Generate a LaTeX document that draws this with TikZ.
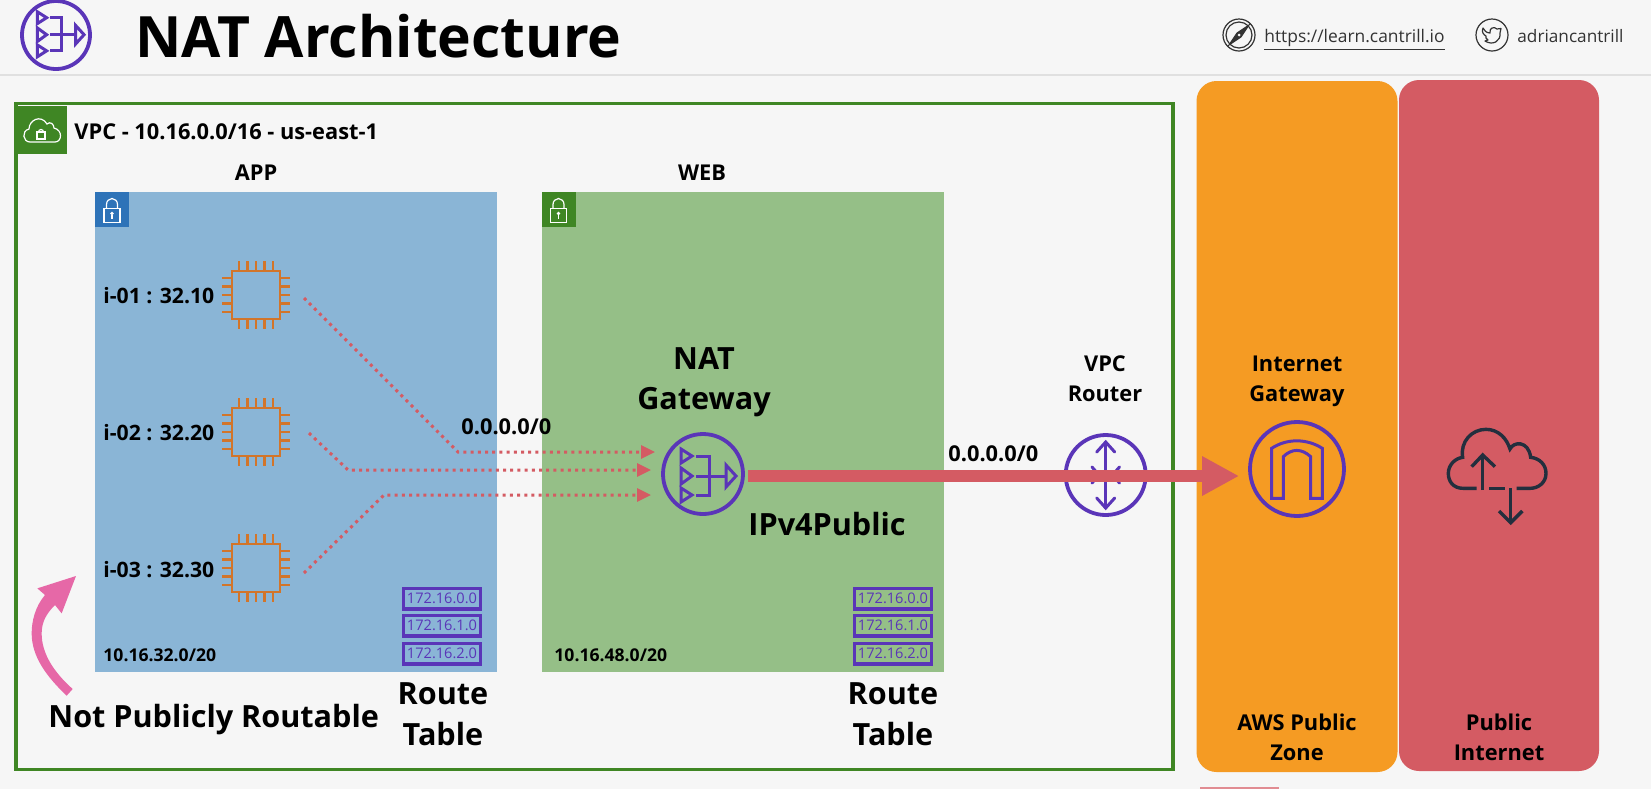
\documentclass[tikz,border=0pt]{standalone}
\usepackage{fontspec}
\setmainfont{Open Sans}
\usetikzlibrary{arrows.meta,calc}
\definecolor{bgc}{HTML}{F6F6F6}
\definecolor{vpcg}{HTML}{3F8624}
\definecolor{bluearea}{HTML}{8AB5D6}
\definecolor{greenarea}{HTML}{95BF87}
\definecolor{bluebadge}{HTML}{2E73B8}
\definecolor{orangez}{HTML}{F59B23}
\definecolor{redz}{HTML}{D45B63}
\definecolor{pinkarrow}{HTML}{E668A7}
\definecolor{purp}{HTML}{5A35B8}
\definecolor{chipc}{HTML}{D2752A}
\definecolor{darkc}{HTML}{232F3E}
\definecolor{linec}{HTML}{333333}
\newcommand\tsize[1]{\fontsize{#1}{#1}\selectfont}
\tikzset{
  lbl/.style={inner sep=0pt,anchor=base,text=black},
  lblw/.style={inner sep=0pt,anchor=base west,text=black},
  hb/.style={font=\bfseries\tsize{15.3}},
  mb/.style={font=\bfseries\tsize{10.9}},
  ib/.style={font=\bfseries\tsize{10.6}},
  sb/.style={font=\bfseries\tsize{8.8}},
  chipbody/.style={draw=chipc,line width=1.4pt,minimum size=24pt,inner sep=0pt},
  pin/.style={draw=chipc,line width=1.2pt},
  rtable/.style={draw=purp,line width=1.6pt,text=purp,minimum width=38.5pt,minimum height=10.4pt,inner sep=0pt,font=\tsize{7.3}},
  ring/.style={draw=purp,circle,line width=1.9pt,inner sep=0pt},
  glyph/.style={draw=purp,line width=1.5pt,line join=miter},
  dotline/.style={draw=redz,line width=1.5pt,dash pattern=on 1.5pt off 2.1pt,-{Triangle[length=7pt,width=6.5pt]}},
  bigline/.style={draw=redz,line width=5.6pt,-{Triangle[length=18.5pt,width=18.5pt]}},
  badge/.style={inner sep=0pt,draw=none},
  lockd/.style={draw=white,line width=.6pt},
}
\newcommand\chipat[2]{%
  \node[chipbody] (#1) at (#2) {};
  \foreach \d in {-17,-8.5,0,8.5,17}{
    \draw[pin] ($(#1.north)+(\d,0)$) -- +(0,-9);
    \draw[pin] ($(#1.south)+(\d,0)$) -- +(0,9);
    \draw[pin] ($(#1.west)+(0,\d)$) -- +(-9,0);
    \draw[pin] ($(#1.east)+(0,\d)$) -- +(9,0);
  }}
\newcommand\natglyph[3]{%
  \begin{scope}[shift={(#1,#2)},scale=#3]
    \draw[glyph] (-22,-25) -- (-11,-18) -- (-22,-11) -- cycle;
    \draw[glyph] (-22,-6) -- (-11,2) -- (-22,10) -- cycle;
    \draw[glyph] (-22,14) -- (-11,21) -- (-22,28) -- cycle;
    \draw[glyph] (-7,-18) -- (6,-18) -- (6,21) -- (-7,21);
    \draw[glyph] (-7,2) -- (23,2);
    \draw[glyph] (23,-9) -- (33,2) -- (23,13) -- cycle;
  \end{scope}}
\newcommand\lockat[2]{%
  \begin{scope}[shift={(#1,#2)}]
    \draw[lockd] (-8,-1) rectangle (8,13);
    \draw[lockd] (-5.5,-1) -- (-5.5,-5) arc (180:360:5.5 and 6) -- (5.5,-1);
    \fill[white] (0,4) circle (1.8);
    \draw[lockd] (0,5) -- (0,9);
  \end{scope}}
\begin{document}
\begin{tikzpicture}[x=0.5pt,y=-0.5pt]
\useasboundingbox (0,0) rectangle (1651,789);
\fill[bgc] (0,0) rectangle (1651,789);
\draw[black!12,line width=.6pt] (0,75) -- (1651,75);

% header
\node[ring,minimum size=34pt] (natlogo) at (56,35) {};
\natglyph{56}{33}{0.85}
\node[lblw,font=\bfseries\tsize{28.5}] (title) at (135,57) {NAT Architecture};
\node[draw=linec,circle,line width=.6pt,minimum size=16pt,inner sep=0pt] (web) at (1239,35) {};
\node[draw=linec,circle,line width=.6pt,minimum size=13pt,inner sep=0pt] (webin) at (1239,35) {};
\draw[linec,line width=.5pt,fill=linec] (1249,25) -- (1241,37) -- (1229,45) -- (1237,33) -- cycle;
\fill[bgc] (1239,35) circle (1.5);
\node[lblw,font=\tsize{8.7},text=linec] (site) at (1264,42) {\underline{https://learn.cantrill.io}};
\node[draw=linec,circle,line width=.6pt,minimum size=16pt,inner sep=0pt] (tw) at (1492,35) {};
\draw[linec,line width=.6pt,line join=round] (1501,28.5) -- (1497,29) .. controls (1494,26) and (1489,28) .. (1490,33) .. controls (1486,33) and (1484,30) .. (1483,28) .. controls (1481,32) and (1484,35) .. (1486,36) .. controls (1485,37) and (1486,39) .. (1488,40) -- (1485,41) .. controls (1493,46) and (1501,41) .. (1500,33) -- cycle;
\node[lblw,font=\tsize{8.6},text=linec] (handle) at (1517,42) {adriancantrill};

% zones
\node[fill=orangez,rounded corners=10pt,minimum width=100.5pt,minimum height=345.5pt,inner sep=0pt] (awsz) at (1297,426.5) {};
\node[fill=redz,rounded corners=10pt,minimum width=100pt,minimum height=345.5pt,inner sep=0pt] (inet) at (1499,425.5) {};
\fill[redz!70!white] (1200,786.5) rectangle (1279,789);

% VPC
\node[draw=vpcg,line width=1.6pt,minimum width=578.5pt,minimum height=333pt,inner sep=0pt] (vpc) at (594.5,436.5) {};
\node[badge,fill=vpcg,minimum width=25pt,minimum height=24pt] (vpcbadge) at (41.5,130) {};
\draw[white,line width=.6pt] (30,142) .. controls (23,142) and (21,131) .. (29,129) .. controls (29,120) and (41,114) .. (47,124) .. controls (50,121) and (54,124) .. (54,128) .. controls (63,130) and (62,142) .. (55,142) -- cycle;
\draw[white,line width=.6pt] (37,132) rectangle (45,139);
\draw[white,line width=.6pt] (38.5,132) arc (180:360:2.5);
\node[lblw,mb] (vpclabel) at (74,139) {VPC - 10.16.0.0/16 - us-east-1};

% subnets
\node[fill=bluearea,minimum width=201pt,minimum height=240pt,inner sep=0pt] (app) at (296,432) {};
\node[fill=greenarea,minimum width=201pt,minimum height=240pt,inner sep=0pt] (webz) at (742.5,432) {};
\node[badge,fill=bluebadge,minimum width=17pt,minimum height=17.5pt] (appbadge) at (112,209.5) {};
\lockat{112}{209.5}
\node[badge,fill=vpcg,minimum width=17pt,minimum height=17.5pt] (webbadge) at (558.5,209.5) {};
\lockat{558.5}{209.5}
\node[lbl,mb] (applabel) at (256,180) {APP};
\node[lbl,mb] (weblabel) at (702,180) {WEB};

% chips
\chipat{chipa}{256,295}
\chipat{chipb}{256,432}
\chipat{chipc}{256,568}
\node[lblw,ib] (ia) at (103,303) {i-01 : 32.10};
\node[lblw,ib] (ib) at (103,440) {i-02 : 32.20};
\node[lblw,ib] (ic) at (103,577) {i-03 : 32.30};
\node[lblw,sb] (cidra) at (103,661) {10.16.32.0/20};
\node[lblw,sb] (cidrb) at (554,661) {10.16.48.0/20};

% route tables
\foreach \n/\y/\t in {a/598.5/172.16.0.0,b/625.5/172.16.1.0,c/653.5/172.16.2.0}{
  \node[rtable] (rl\n) at (442,\y) {\t};
  \node[rtable] (rr\n) at (893,\y) {\t};
}
\node[lbl,hb] (rt1a) at (443,704) {Route};
\node[lbl,hb] (rt1b) at (443,745) {Table};
\node[lbl,hb] (rt2a) at (893,704) {Route};
\node[lbl,hb] (rt2b) at (893,745) {Table};
\node[lblw,hb] (npr) at (48,727) {Not Publicly Routable};

% pink arrow
\begin{scope}[shift={(0,540)},scale=0.33333]
\fill[pinkarrow] (200,467) -- (218,447) .. controls (160,395) and (125,340) .. (125,280) .. controls (125,245) and (140,220) .. (165,195) -- (185,220) -- (228,108) -- (112,145) -- (135,165) .. controls (105,200) and (95,245) .. (95,280) .. controls (95,350) and (140,410) .. (200,467) -- cycle;
\end{scope}

% NAT gateway
\node[ring,minimum size=40pt] (nat) at (703,474) {};
\natglyph{703}{474}{1}
\node[lbl,hb] (nat1) at (704,369) {NAT};
\node[lbl,hb] (nat2) at (704,409) {Gateway};
\node[lblw,hb] (ipv4) at (748,535) {IPv4Public};

% router
\node[ring,minimum size=40pt] (rtr) at (1105.7,475) {};
\draw[glyph,line cap=round] (1105.7,442) -- (1105.7,508);
\draw[glyph,line cap=round] (1096.7,452) -- (1105.7,442) -- (1114.7,452);
\draw[glyph,line cap=round] (1096.7,498) -- (1105.7,508) -- (1114.7,498);
\draw[glyph,line cap=round] (1092,467) -- (1099,475) -- (1092,483);
\draw[glyph,line cap=round] (1119.5,467) -- (1112.5,475) -- (1119.5,483);
\node[lbl,mb] (rtr1) at (1105,371) {VPC};
\node[lbl,mb] (rtr2) at (1105,401) {Router};

% IGW
\node[ring,minimum size=47pt] (igw) at (1297,469) {};
\begin{scope}[shift={(1180,400)},scale=0.33333]
\draw[glyph] (275,295) -- (275,145) .. controls (320,115) and (380,115) .. (427,145) -- (427,295) -- (392,295) -- (392,170) .. controls (365,145) and (335,145) .. (310,170) -- (310,295) -- cycle;
\end{scope}
\node[lbl,mb] (ig1) at (1297,371) {Internet};
\node[lbl,mb] (ig2) at (1297,401) {Gateway};
\node[lbl,mb] (zone1) at (1297,730) {AWS Public};
\node[lbl,mb] (zone2) at (1297,760) {Zone};
\node[lbl,mb] (pi1) at (1499,730) {Public};
\node[lbl,mb] (pi2) at (1499,760) {Internet};

% cloud
\begin{scope}[shift={(1180,400)},scale=0.33333,draw=darkc,line width=1.7pt]
\draw (890,265) -- (850,265) .. controls (820,265) and (805,245) .. (805,220) .. controls (805,195) and (825,175) .. (848,172) .. controls (840,125) and (875,88) .. (918,88) .. controls (955,88) and (980,115) .. (990,147) .. controls (1000,125) and (1045,120) .. (1052,172) .. controls (1080,175) and (1098,195) .. (1098,220) .. controls (1098,248) and (1075,265) .. (1050,265) -- (1010,265);
\draw (928,265) -- (975,265);
\draw (908,270) -- (908,165);
\draw (875,200) -- (908,165) -- (945,200);
\draw (992,265) -- (992,368);
\draw (957,333) -- (992,368) -- (1027,333);
\end{scope}

% connectors
\coordinate (d1s) at (304,298); \coordinate (d1k) at (458,452);
\coordinate (d1e) at (655,452);
\coordinate (d2s) at (309,433); \coordinate (d2k) at (348,470);
\coordinate (d2e) at (651,470);
\coordinate (d3s) at (304,573); \coordinate (d3k) at (384,495);
\coordinate (d3e) at (651,495);
\draw[dotline] (d1s) -- (d1k) -- (d1e);
\draw[dotline] (d2s) -- (d2k) -- (d2e);
\draw[dotline] (d3s) -- (d3k) -- (d3e);
\draw[bigline] ($(nat.east)+(3,2)$) -- ($(igw.west)+(-9,7)$);
\node[lblw,mb] (r0) at (461,434) {0.0.0.0/0};
\node[lblw,mb] (r1) at (948,461) {0.0.0.0/0};
\end{tikzpicture}
\end{document}
